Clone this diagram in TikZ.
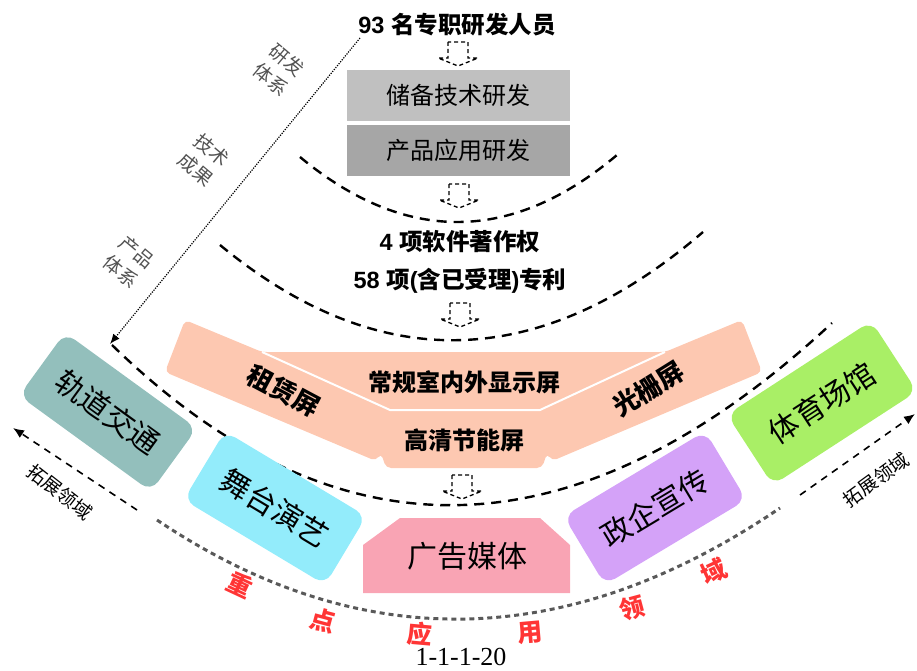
\documentclass[tikz,border=0pt]{standalone}
\usepackage{fontspec}
\setmainfont{Liberation Sans}
\newfontfamily\cjk{Noto Sans CJK SC}
\newfontfamily\capfont{Liberation Serif}
\usetikzlibrary{arrows.meta}
\newcommand\zhb[1]{{\cjk\bfseries #1}}
\definecolor{salmon}{HTML}{FDC8B1}
\definecolor{teal1}{HTML}{93BFBC}
\definecolor{cyan1}{HTML}{93ECFB}
\definecolor{pink1}{HTML}{F9A4B4}
\definecolor{purple1}{HTML}{D4A2F8}
\definecolor{green1}{HTML}{A9EF66}
\definecolor{gray1}{HTML}{C0C0C0}
\definecolor{gray2}{HTML}{A6A6A6}
\definecolor{redtxt}{HTML}{FF3535}
\tikzset{
  darr/.pic={\draw[line width=1.3pt, dash pattern=on 4pt off 3pt] (-10,0) -- (-10,16) -- (-20,16) -- (0,24) -- (20,16) -- (10,16) -- (10,0) -- cycle;},
  bigdash/.style={line width=2.4pt, dash pattern=on 10pt off 7pt},
  graydash/.style={draw=black!65, line width=3pt, dash pattern=on 5pt off 4pt},
  title/.style={inner sep=0pt, font=\bfseries\fontsize{23.5}{26}\selectfont},
  rdbox/.style={inner sep=0pt, minimum width=223pt, minimum height=51pt, font=\cjk\fontsize{24}{26}\selectfont},
  cbox/.style={rounded corners=12pt, inner sep=0pt, minimum width=165pt, minimum height=80pt, font=\cjk\fontsize{30}{32}\selectfont},
  sctext/.style={inner sep=0pt, font=\cjk\bfseries\fontsize{24}{26}\selectfont},
  sidelabel/.style={inner sep=0pt, text=black!68, align=center, rotate=-40, font=\cjk\fontsize{19}{25}\selectfont},
  tuo/.style={inner sep=0pt, font=\cjk\fontsize{19}{21}\selectfont},
  redch/.style={inner sep=0pt, text=redtxt, font=\cjk\bfseries\fontsize{25}{27}\selectfont},
  sidearr/.style={line width=1.6pt, dash pattern=on 7pt off 6pt, -{Latex[length=11pt,width=9pt]}},
}
\begin{document}
\begin{tikzpicture}[x=1pt,y=-1pt]
\useasboundingbox (0,0) rectangle (917,671);

% dashed curves
\draw[bigdash] (300,157) .. controls (405,244) and (511,244) .. (617,155);
\draw[bigdash] (220,245) .. controls (379,376) and (540,372) .. (703,232);
\draw[graydash] (157,520) .. controls (360,656) and (568,652) .. (780,508);

% top texts and boxes
\node[title] (top) at (457,25) {93 \zhb{名专职研发人员}};
\pic at (458,42) {darr};
\node[rdbox, fill=gray1] (rd1) at (458.5,95.5) {储备技术研发};
\node[rdbox, fill=gray2] (rd2) at (458.5,150.5) {产品应用研发};
\pic at (459,184) {darr};
\node[title] (sw) at (460,242) {4 \zhb{项软件著作权}};
\node[title] (pat) at (460,281) {58 \zhb{项}(\zhb{含已受理})\zhb{专利}};
\pic at (460,303) {darr};

% salmon display shape
\fill[salmon, rounded corners=5pt] (185,320) -- (262,352) -- (665,352) -- (742,320) -- (762,372)
  -- (552,461) -- (547,453) -- (542,468) -- (386,468) -- (381,453) -- (376,461) -- (165,372) -- cycle;
\draw[white, line width=2pt] (262,352) -- (390,410) -- (540,410) -- (665,352);
\node[sctext] (cg) at (464,382) {常规室内外显示屏};
\node[sctext] (gq) at (464,440) {高清节能屏};
\node[sctext, font=\cjk\bfseries\fontsize{26}{28}\selectfont, rotate=-28] (zl) at (284,391) {租赁屏};
\node[sctext, font=\cjk\bfseries\fontsize{26}{28}\selectfont, rotate=32] (gs) at (648,389) {光栅屏};

% big dashed curve around the screens
\draw[bigdash] (112,345) .. controls (339,566) and (579,558) .. (832,323);
\pic at (462,475) {darr};

% research line and labels
\coordinate (dA) at (360,38);
\coordinate (dB) at (110,344);
\draw[line width=1.2pt, dash pattern=on 1.2pt off 1.3pt, -{Latex[length=10pt,width=8pt]}] (dA) -- (dB);
\node[sidelabel] (l1) at (279,70) {研发\\体系};
\node[sidelabel] (l2) at (204,160) {技术\\成果};
\node[sidelabel] (l3) at (129,262) {产品\\体系};

% application boxes
\node[cbox, fill=teal1, minimum width=163pt, minimum height=78pt, rotate=-36] (gd) at (108,412) {轨道交通};
\node[cbox, fill=cyan1, rotate=-31] (wt) at (275,508) {舞台演艺};
\node[cbox, fill=purple1, rotate=31] (zq) at (655,508) {政企宣传};
\node[cbox, fill=green1, minimum width=172pt, minimum height=84pt, rotate=33] (ty) at (822,403) {体育场馆};
\fill[pink1] (400,518) -- (540,518) -- (570,545) -- (570,593) -- (363,593) -- (363,545) -- cycle;
\node[inner sep=0pt, font=\cjk\fontsize{30}{32}\selectfont] (gg) at (467,556) {广告媒体};

% expansion arrows
\coordinate (ls) at (137,510);
\coordinate (le) at (13,428);
\coordinate (rs) at (800,495);
\coordinate (re) at (915,414);
\draw[sidearr] (ls) -- (le);
\draw[sidearr] (rs) -- (re);
\node[tuo, rotate=-38] (tl) at (60,492) {拓展领域};
\node[tuo, rotate=36] (tr) at (876,480) {拓展领域};

% red labels
\node[redch, rotate=-25] (r1) at (240,585) {重};
\node[redch, rotate=-15] (r2) at (323,620) {点};
\node[redch, rotate=-5] (r3) at (420,634) {应};
\node[redch, rotate=5] (r4) at (530,633) {用};
\node[redch, rotate=15] (r5) at (632,608) {领};
\node[redch, rotate=25] (r6) at (714,572) {域};

\node[inner sep=0pt, font=\capfont\fontsize{26}{28}\selectfont] (cap) at (461,657) {1-1-1-20};
\end{tikzpicture}
\end{document}
